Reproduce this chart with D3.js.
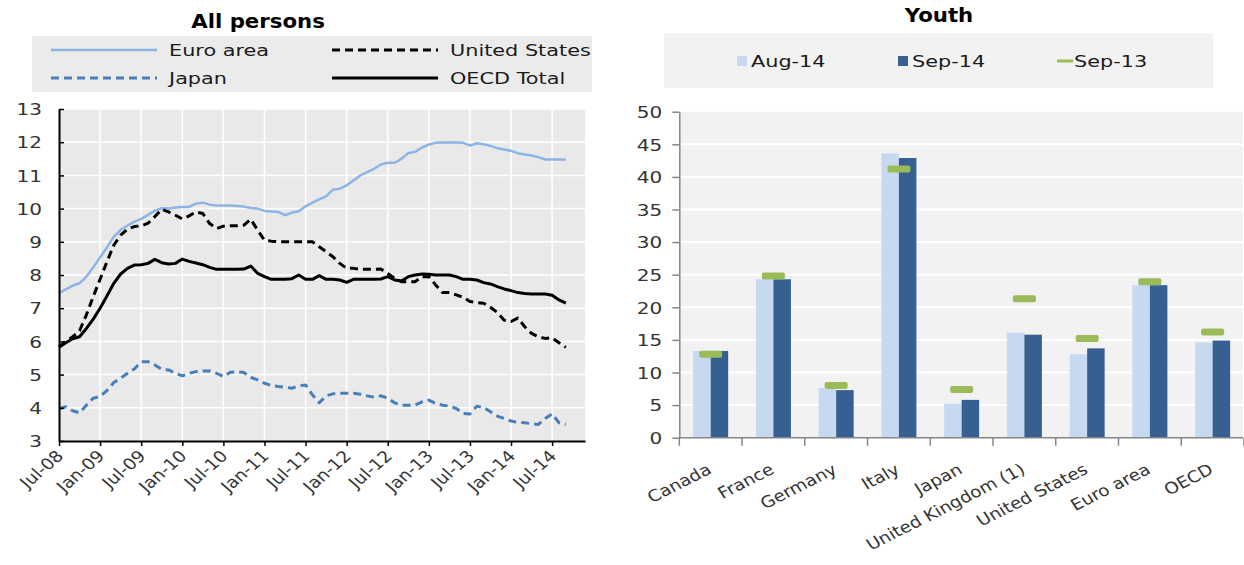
<!DOCTYPE html>
<html>
<head>
<meta charset="utf-8">
<script src="https://cdn.jsdelivr.net/npm/d3@7"></script>
<style>
  body { margin: 0; background: #fff; }
  text { font-family: "DejaVu Sans", Verdana, sans-serif; }
</style>
</head>
<body>
<script>
// ---- data: left panel (monthly, Jul-08 .. Sep-14) ----
const tickLabels = ["Jul-08", "Jan-09", "Jul-09", "Jan-10", "Jul-10", "Jan-11", "Jul-11",
  "Jan-12", "Jul-12", "Jan-13", "Jul-13", "Jan-14", "Jul-14"];

const euroArea = [
  7.45, 7.57, 7.68, 7.75, 7.95, 8.23, 8.53, 8.83, 9.15, 9.36, 9.49, 9.61,
  9.69, 9.81, 9.94, 10.01, 10.0, 10.03, 10.05, 10.05, 10.15, 10.18, 10.12, 10.09,
  10.09, 10.09, 10.08, 10.06, 10.02, 10.0, 9.93, 9.91, 9.9, 9.8, 9.88, 9.92,
  10.07, 10.18, 10.28, 10.37, 10.57, 10.6, 10.7, 10.85, 11.0, 11.1, 11.2, 11.33,
  11.38, 11.38, 11.5, 11.67, 11.71, 11.84, 11.93, 11.98, 11.99, 11.99, 11.99, 11.98,
  11.9, 11.97, 11.94, 11.89, 11.82, 11.78, 11.74, 11.67, 11.63, 11.6, 11.55, 11.48,
  11.48, 11.48, 11.48
];
const unitedStates = [
  5.84, 5.99, 6.14, 6.32, 6.8, 7.35, 7.87, 8.4, 8.9, 9.2, 9.38, 9.46,
  9.48, 9.56, 9.76, 9.98, 9.9, 9.8, 9.69, 9.78, 9.9, 9.85, 9.55, 9.4,
  9.47, 9.48, 9.48, 9.5, 9.68, 9.35, 9.05, 9.02, 9.0, 9.0, 9.0, 9.0,
  9.0, 9.0, 8.85, 8.7, 8.55, 8.35, 8.2, 8.2, 8.17, 8.17, 8.17, 8.18,
  8.05, 7.9, 7.8, 7.8, 7.8, 7.95, 7.95, 7.7, 7.47, 7.47, 7.4, 7.33,
  7.2, 7.17, 7.15, 7.03, 6.87, 6.64, 6.6, 6.7, 6.44, 6.24, 6.14, 6.09,
  6.11, 5.96, 5.82
];
const japan = [
  3.97, 4.03, 3.91, 3.85, 4.08, 4.29, 4.34, 4.52, 4.76, 4.89, 5.04, 5.17,
  5.39, 5.39, 5.29, 5.16, 5.14, 5.04, 4.96, 5.04, 5.09, 5.11, 5.11, 5.04,
  4.94, 5.07, 5.09, 5.06, 4.92, 4.84, 4.74, 4.67, 4.64, 4.62, 4.59, 4.66,
  4.69, 4.39, 4.15, 4.36, 4.42, 4.44, 4.44, 4.44, 4.41, 4.36, 4.32, 4.36,
  4.29, 4.15, 4.08, 4.08, 4.08, 4.18, 4.23, 4.13, 4.08, 4.05, 3.98, 3.83,
  3.81, 4.05, 4.01, 3.88, 3.75, 3.68, 3.6, 3.56, 3.55, 3.52, 3.5, 3.68,
  3.82, 3.55, 3.5
];
const oecdTotal = [
  5.82, 5.96, 6.08, 6.14, 6.39, 6.67, 7.0, 7.37, 7.75, 8.03, 8.2, 8.3,
  8.31, 8.35, 8.47, 8.37, 8.33, 8.35, 8.48, 8.41, 8.36, 8.31, 8.23, 8.17,
  8.17, 8.17, 8.17, 8.18, 8.27, 8.05, 7.95, 7.87, 7.87, 7.87, 7.89, 8.0,
  7.87, 7.87, 7.98, 7.87, 7.87, 7.85, 7.78, 7.87, 7.87, 7.87, 7.87, 7.88,
  7.95, 7.85, 7.82, 7.95, 8.0, 8.03, 8.02, 8.0, 8.0, 8.0, 7.95, 7.87,
  7.87, 7.85, 7.77, 7.73, 7.65, 7.58, 7.53, 7.47, 7.44, 7.43, 7.43, 7.43,
  7.39, 7.25, 7.15
];

// ---- data: right panel ----
const countries = ["Canada", "France", "Germany", "Italy", "Japan", "United Kingdom (1)",
  "United States", "Euro area", "OECD"];
const aug14 = [13.3, 24.3, 7.6, 43.6, 5.2, 16.1, 12.8, 23.4, 14.6];
const sep14 = [13.3, 24.3, 7.3, 42.9, 5.8, 15.8, 13.7, 23.4, 14.9];
const sep13 = [12.8, 24.8, 8.0, 41.2, 7.4, 21.3, 15.2, 23.9, 16.2];

const W = 1244, H = 565;
const svg = d3.select("body").append("svg").attr("width", W).attr("height", H);

// text in the source is rendered a little wide, so stretch it horizontally
const SX = 1.25;

// ================= LEFT: All persons =================
const L = { left: 59, right: 585, top: 109, bottom: 441 };
const xL = d3.scaleLinear().domain([0, 76.8]).range([L.left, L.right]);
const yL = d3.scaleLinear().domain([3, 13]).range([L.bottom, L.top]);
const tickMonths = tickLabels.map((d, i) => i * 6);

svg.append("text")
  .attr("transform", `translate(258,28) scale(1.12,1)`)
  .attr("text-anchor", "middle")
  .style("font-size", "19px").style("font-weight", "bold").attr("fill", "#000")
  .text("All persons");

// legend
svg.append("rect").attr("x", 32).attr("y", 36).attr("width", 560).attr("height", 56)
  .attr("fill", "#ebebeb");

const leftSeries = [
  { name: "Euro area", values: euroArea, color: "#8db4e2", dash: null, w: 2.5, lx: 51, ly: 50 },
  { name: "United States", values: unitedStates, color: "#000", dash: "8,5", w: 3, lx: 332, ly: 50 },
  { name: "Japan", values: japan, color: "#4a7ebb", dash: "8,5", w: 3, lx: 51, ly: 78 },
  { name: "OECD Total", values: oecdTotal, color: "#000", dash: null, w: 3, lx: 332, ly: 78 }
];

const legL = svg.append("g").selectAll("g").data(leftSeries).enter().append("g");
legL.append("line")
  .attr("x1", (d) => d.lx).attr("x2", (d) => d.lx + 106)
  .attr("y1", (d) => d.ly).attr("y2", (d) => d.ly)
  .attr("stroke", (d) => d.color).attr("stroke-width", (d) => d.w)
  .attr("stroke-dasharray", (d) => d.dash);
legL.append("text")
  .attr("transform", (d) => `translate(${d.lx + 118},${d.ly}) scale(1.3,1)`)
  .attr("dy", "0.36em")
  .style("font-size", "16px").attr("fill", "#1a1a1a")
  .text((d) => d.name);

// plot area
svg.append("rect").attr("x", L.left).attr("y", L.top)
  .attr("width", L.right - L.left).attr("height", L.bottom - L.top)
  .attr("fill", "#e9e9e9");

svg.append("g").selectAll("line").data(d3.range(4, 14)).enter().append("line")
  .attr("x1", L.left).attr("x2", L.right)
  .attr("y1", (d) => yL(d)).attr("y2", (d) => yL(d))
  .attr("stroke", "#fff").attr("stroke-width", 1.5);
svg.append("g").selectAll("line").data(tickMonths.slice(1)).enter().append("line")
  .attr("x1", (d) => xL(d)).attr("x2", (d) => xL(d))
  .attr("y1", L.top).attr("y2", L.bottom)
  .attr("stroke", "#fff").attr("stroke-width", 1.5);

const line = d3.line()
  .x((d, i) => xL(i))
  .y((d) => yL(d));

svg.append("g").selectAll("path").data(leftSeries).enter().append("path")
  .attr("fill", "none")
  .attr("stroke", (d) => d.color)
  .attr("stroke-width", (d) => d.w)
  .attr("stroke-dasharray", (d) => d.dash)
  .attr("stroke-linejoin", "round")
  .attr("d", (d) => line(d.values));

// axes
const yAxisL = svg.append("g")
  .attr("transform", `translate(${L.left},0)`)
  .call(d3.axisLeft(yL).tickValues(d3.range(3, 14)).tickSize(-5).tickSizeOuter(0).tickPadding(0));
yAxisL.select(".domain").attr("stroke", "#000").attr("stroke-width", 2);
yAxisL.selectAll(".tick line").attr("stroke", "#000").attr("stroke-width", 1.5);
yAxisL.selectAll(".tick text")
  .attr("x", null)
  .attr("transform", `translate(-17,0) scale(${SX},1)`)
  .attr("dy", "0.36em")
  .style("font-size", "16px").attr("fill", "#333");

const xAxisL = svg.append("g")
  .attr("transform", `translate(0,${L.bottom})`)
  .call(d3.axisBottom(xL).tickValues(tickMonths).tickSize(5).tickSizeOuter(0)
    .tickFormat((d, i) => tickLabels[i]));
xAxisL.select(".domain").attr("stroke", "#000").attr("stroke-width", 2);
xAxisL.selectAll(".tick line").attr("stroke", "#000").attr("stroke-width", 1.5);
xAxisL.selectAll(".tick text")
  .attr("y", null).attr("dy", null)
  .attr("text-anchor", "end")
  .attr("transform", "translate(5,16) scale(1.15,1) rotate(-45)")
  .style("font-size", "16px").attr("fill", "#333");

// ================= RIGHT: Youth =================
const R = { left: 679.3, right: 1243, top: 111.7, bottom: 437.7 };
const xR = d3.scaleBand().domain(countries).range([R.left, 1244]).padding(0);
const yR = d3.scaleLinear().domain([0, 50]).range([R.bottom, R.top]);
const groupW = 35;
const xSub = d3.scaleBand().domain(["Aug-14", "Sep-14"]).range([0, groupW]);
const off = (xR.bandwidth() - groupW) / 2;

svg.append("text")
  .attr("transform", `translate(939,22) scale(1.12,1)`)
  .attr("text-anchor", "middle")
  .style("font-size", "19px").style("font-weight", "bold").attr("fill", "#000")
  .text("Youth");

// legend
svg.append("rect").attr("x", 664).attr("y", 33).attr("width", 549).attr("height", 55)
  .attr("fill", "#f2f2f2");
const legR = [
  { name: "Aug-14", color: "#c6d9f1", type: "box", x: 737 },
  { name: "Sep-14", color: "#376092", type: "box", x: 898 },
  { name: "Sep-13", color: "#9bbb59", type: "line", x: 1057 }
];
const lg = svg.append("g").selectAll("g").data(legR).enter().append("g");
lg.filter((d) => d.type === "box").append("rect")
  .attr("x", (d) => d.x).attr("y", 56).attr("width", 10).attr("height", 10)
  .attr("fill", (d) => d.color);
lg.filter((d) => d.type === "line").append("line")
  .attr("x1", (d) => d.x).attr("x2", (d) => d.x + 16)
  .attr("y1", 61).attr("y2", 61)
  .attr("stroke", (d) => d.color).attr("stroke-width", 3);
lg.append("text")
  .attr("transform", (d) => `translate(${d.x + (d.type === "box" ? 14 : 17)},61) scale(1.3,1)`)
  .attr("dy", "0.36em")
  .style("font-size", "16px").attr("fill", "#1a1a1a")
  .text((d) => d.name);

// plot area
svg.append("rect").attr("x", R.left).attr("y", R.top)
  .attr("width", R.right - R.left).attr("height", R.bottom - R.top)
  .attr("fill", "#f2f2f2");
svg.append("g").selectAll("line").data(d3.range(5, 50, 5)).enter().append("line")
  .attr("x1", R.left).attr("x2", R.right)
  .attr("y1", (d) => yR(d)).attr("y2", (d) => yR(d))
  .attr("stroke", "#fff").attr("stroke-width", 2);

// bars
const barData = countries.map((c, i) => ({ c, aug: aug14[i], sep: sep14[i], prev: sep13[i] }));
const grp = svg.append("g").selectAll("g").data(barData).enter().append("g")
  .attr("transform", (d) => `translate(${xR(d.c) + off},0)`);
grp.append("rect")
  .attr("x", xSub("Aug-14")).attr("width", xSub.bandwidth())
  .attr("y", (d) => yR(d.aug)).attr("height", (d) => yR(0) - yR(d.aug))
  .attr("fill", "#c6d9f1");
grp.append("rect")
  .attr("x", xSub("Sep-14")).attr("width", xSub.bandwidth())
  .attr("y", (d) => yR(d.sep)).attr("height", (d) => yR(0) - yR(d.sep))
  .attr("fill", "#376092");
grp.append("rect")
  .attr("x", groupW / 2 - 11.5).attr("width", 23)
  .attr("y", (d) => yR(d.prev) - 3.5).attr("height", 7).attr("rx", 2)
  .attr("fill", "#9bbb59");

// axes
const yAxisR = svg.append("g")
  .attr("transform", `translate(${R.left},0)`)
  .call(d3.axisLeft(yR).tickValues(d3.range(0, 51, 5)).tickSize(7).tickSizeOuter(0).tickPadding(0));
yAxisR.select(".domain").attr("stroke", "#868686").attr("stroke-width", 1.5);
yAxisR.selectAll(".tick line").attr("stroke", "#868686").attr("stroke-width", 1.5);
yAxisR.selectAll(".tick text")
  .attr("x", null)
  .attr("transform", `translate(-17,0) scale(${SX},1)`)
  .attr("dy", "0.36em")
  .style("font-size", "16px").attr("fill", "#333");

const xAxisR = svg.append("g").attr("transform", `translate(0,${R.bottom})`);
xAxisR.append("line").attr("x1", R.left).attr("x2", R.right).attr("y1", 0).attr("y2", 0)
  .attr("stroke", "#868686").attr("stroke-width", 1.5);
xAxisR.selectAll("line.tk").data(d3.range(0, countries.length + 1)).enter().append("line")
  .attr("class", "tk")
  .attr("x1", (i) => R.left + i * xR.step()).attr("x2", (i) => R.left + i * xR.step())
  .attr("y1", 0).attr("y2", 8)
  .attr("stroke", "#868686").attr("stroke-width", 1.5);
xAxisR.selectAll("text").data(countries).enter().append("text")
  .attr("text-anchor", "end")
  .attr("transform", (d) => `translate(${xR(d) + xR.bandwidth() / 2 + 2},35) scale(1.15,1) rotate(-30)`)
  .style("font-size", "16px").attr("fill", "#333")
  .text((d) => d);
</script>
</body>
</html>
